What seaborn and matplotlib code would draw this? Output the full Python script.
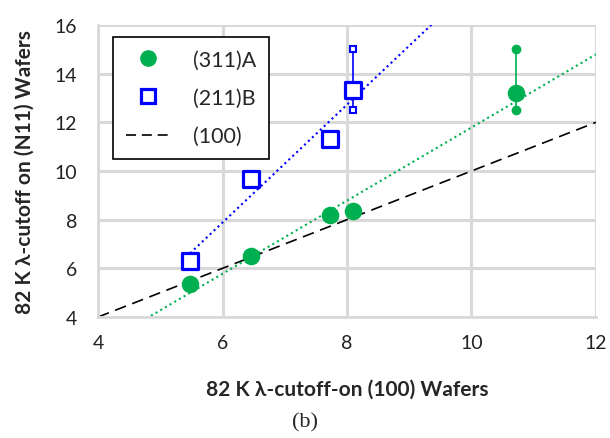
import numpy as np
import pandas as pd
import matplotlib
matplotlib.use("Agg")
import matplotlib.pyplot as plt
from matplotlib.lines import Line2D
import seaborn as sns

# podaci ocitani sa slike
x_311a = [5.48, 6.46, 7.72, 8.10, 10.71]
y_311a = [5.35, 6.51, 8.18, 8.36, 13.21]
x_211b = [5.48, 6.46, 7.72, 8.10]
y_211b = [6.31, 9.66, 11.32, 13.34]

# raspon (min/max) za poslednje tacke
x_err_311a = [10.71]
lo_311a = [12.5]
hi_311a = [15.0]
x_err_211b = [8.10]
lo_211b = [12.5]
hi_211b = [15.0]

ref_x = [4, 12]
ref_y = [4, 12]

green = "#00b050"
blue = "#0000ff"
grid_c = "#d9d9d9"

sns.set_style("white")
plt.rcParams['font.family'] = ['Lato', 'DejaVu Sans']

fig = plt.figure(figsize=(6.1, 4.39), dpi=100)
ax = fig.add_axes([0.1607, 0.2756, 0.8163, 0.6652])

# linija (100): y = x
sns.lineplot(x=ref_x, y=ref_y, ax=ax, color="black", lw=1.2,
             linestyle=(0, (7, 4)), zorder=2)

# trend linije (linearni fit)
kb = np.polyfit(x_211b, y_211b, 1)
xb = np.array([min(x_211b), 10.0])
ax.plot(xb, np.polyval(kb, xb), color=blue, lw=1.5, linestyle=(0, (1, 1.6)), zorder=2)
kg = np.polyfit(x_311a, y_311a, 1)
xg = np.array([4.7, 12.0])
ax.plot(xg, np.polyval(kg, xg), color=green, lw=1.5, linestyle=(0, (1, 1.6)), zorder=2)

# rasponi
for xe, lo, hi in zip(x_err_311a, lo_311a, hi_311a):
    ax.plot([xe, xe], [lo, hi], color=green, lw=1.2, zorder=3)
    ax.plot([xe, xe], [lo, hi], ls="none", marker="o", ms=6, color=green, zorder=4)
for xe, lo, hi in zip(x_err_211b, lo_211b, hi_211b):
    ax.plot([xe, xe], [lo, hi], color=blue, lw=1.2, zorder=3)
    ax.plot([xe, xe], [lo, hi], ls="none", marker="s", ms=5, mfc="white",
            mec=blue, mew=1.5, zorder=4)

df_a = pd.DataFrame({"x": x_311a, "y": y_311a})
df_b = pd.DataFrame({"x": x_211b, "y": y_211b})
sns.scatterplot(data=df_a, x="x", y="y", ax=ax, marker="o", s=160, color=green,
                edgecolor=green, linewidth=0, zorder=5)
sns.scatterplot(data=df_b, x="x", y="y", ax=ax, marker="s", s=130, facecolor="white",
                edgecolor=blue, linewidth=2.3, zorder=5)

ax.set_xlim(4, 12)
ax.set_ylim(4, 16)
ax.set_xticks([4, 6, 8, 10, 12])
ax.set_yticks([4, 6, 8, 10, 12, 14, 16])
ax.set_xticks([5, 7, 9, 11], minor=True)
ax.set_yticks([5, 7, 9, 11, 13, 15], minor=True)
ax.grid(True, which="major", color=grid_c, lw=2.2)
ax.set_axisbelow(True)
for s in ["top", "right"]:
    ax.spines[s].set_visible(False)
for s in ["left", "bottom"]:
    ax.spines[s].set_color(grid_c)
    ax.spines[s].set_linewidth(2)
ax.tick_params(axis="both", which="major", length=4, width=1.5, color=grid_c,
               direction="out", labelsize=14, labelcolor="#222222")
ax.tick_params(axis="y", which="major", pad=11)
ax.tick_params(axis="x", which="major", pad=8)
ax.tick_params(axis="both", which="minor", length=4, width=1.5, color=grid_c, direction="in")

ax.set_xlabel("82 K λ-cutoff-on (100) Wafers", fontsize=15, fontweight="bold", labelpad=20)
ax.set_ylabel("82 K λ-cutoff on (N11) Wafers", fontsize=15, fontweight="bold", labelpad=14)

handles = [
    Line2D([], [], ls="none", marker="o", ms=11, color=green),
    Line2D([], [], ls="none", marker="s", ms=10, mfc="white", mec=blue, mew=2.3),
    Line2D([], [], color="black", lw=1.2, linestyle=(0, (6, 3.5))),
]
leg = ax.legend(handles, ["(311)A", "(211)B", "(100)"], loc="upper left",
                bbox_to_anchor=(0.03, 0.96), fontsize=15.5, frameon=True, fancybox=False,
                edgecolor="black", framealpha=1, handlelength=2.1, handletextpad=1.0,
                labelspacing=0.85, borderpad=0.6, borderaxespad=0)
leg.get_frame().set_linewidth(1.2)

fig.text(0.5, 0.036, "(b)", ha="center", va="center", fontsize=16,
         family=["Liberation Serif", "DejaVu Serif"])

fig.savefig("out.png", dpi=100)
